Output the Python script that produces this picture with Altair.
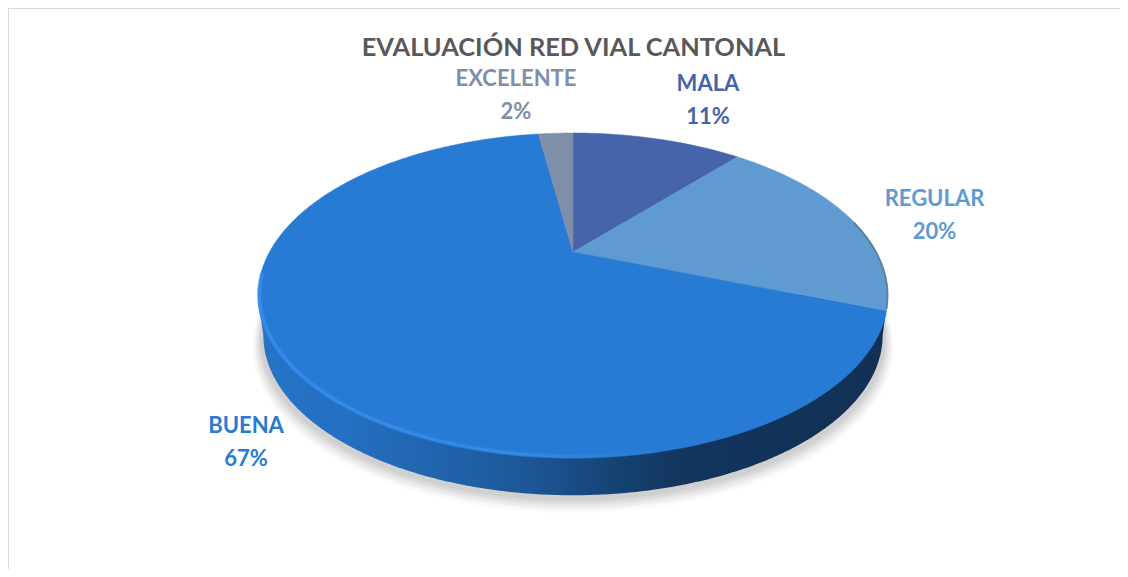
import numpy as np
import pandas as pd
import altair as alt

categories = ["MALA", "REGULAR", "BUENA", "EXCELENTE"]
shares = [11.3, 19.5, 66.9, 2.3]
pct_labels = ["11%", "20%", "67%", "2%"]
colors = ["#4664aa", "#5f9bd1", "#277bd4", "#7f8fa9"]
text_colors = ["#4664aa", "#5f9bd1", "#277bd4", "#7f8fa9"]
label_x = [708, 934.5, 246, 516]
label_y = [84, 199, 426, 79]
title_text = "EVALUACIÓN RED VIAL CANTONAL"

CX, CY, A, Q, K = 573.0, 252.0, 303.5, -83.4, 0.2677
X_DOMAIN = [8, 1120]
Y_DOMAIN = [569, 8]

def project(theta, dy=0.0, scale=1.0):
    u, v = np.sin(theta), np.cos(theta)
    d = 1 + K * v
    x = CX + scale * A * u / d
    y = (CY + Q * v) / d
    mid = 295.0
    return x, mid + scale * (y - mid) + dy

X = alt.X("x:Q", scale=alt.Scale(domain=X_DOMAIN, nice=False, zero=False), axis=None)
Y = alt.Y("y:Q", scale=alt.Scale(domain=Y_DOMAIN, nice=False, zero=False), axis=None)
Y2 = alt.Y2("y2:Q")

rows = []
start = 0.0
for cat, share, col in zip(categories, shares, colors):
    end = start + share
    t = np.radians(np.linspace(start, end, max(3, int(share * 4))) * 3.6)
    xs, ys = project(t)
    pts = [(CX, CY)] + list(zip(xs, ys)) + [(CX, CY)]
    for i, (x, y) in enumerate(pts):
        rows.append({"cat": cat, "i": i, "x": x, "y": y})
    start = end
slices = pd.DataFrame(rows)

layers = []

# soft shadow below the disc
t_all = np.radians(np.arange(0, 361, 2))
for grow, off, op in [(1.035, 12, 0.03), (1.03, 10, 0.04), (1.025, 9, 0.05), (1.02, 7, 0.06), (1.015, 6, 0.07), (1.01, 4, 0.08)]:
    sx, sy = project(t_all, dy=40, scale=0.983 * grow)
    sh = pd.DataFrame({"x": sx, "y": sy + off, "i": np.arange(len(sx))})
    layers.append(alt.Chart(sh).mark_line(fill="#606060", fillOpacity=op, strokeOpacity=0).encode(x=X, y=Y, order="i:Q"))

# side wall
t_ext = np.degrees(np.arccos(-K))
t_low = np.radians(np.linspace(t_ext, 360 - t_ext, 301))
bx, by = project(t_low, dy=40, scale=0.983)
wall_rows = [{"x": 258.0, "y": 295.0, "y2": 295.0}]
for x, y in sorted(zip(bx, by)):
    wall_rows.append({"x": x, "y": 295.0, "y2": y})
wall_rows.append({"x": 888.0, "y": 295.0, "y2": 295.0})
wall = pd.DataFrame(wall_rows)
wall_fill = alt.Gradient(
    gradient="linear", x1=0, x2=1, y1=0, y2=0,
    stops=[
        alt.GradientStop(color="#2474c8", offset=0.0),
        alt.GradientStop(color="#2470c2", offset=0.13),
        alt.GradientStop(color="#2063ab", offset=0.3),
        alt.GradientStop(color="#1c5899", offset=0.42),
        alt.GradientStop(color="#194c85", offset=0.5),
        alt.GradientStop(color="#154170", offset=0.58),
        alt.GradientStop(color="#12355c", offset=0.68),
        alt.GradientStop(color="#113054", offset=1.0),
    ],
)
layers.append(alt.Chart(wall).mark_area(fill=wall_fill).encode(x=X, y=Y, y2=Y2))

# top face
for cat, col in zip(categories, colors):
    layers.append(
        alt.Chart(slices[slices.cat == cat]).mark_line(fill=col, stroke=col, strokeWidth=0.5).encode(x=X, y=Y, order="i:Q")
    )

# bevel on the lit rim
t_rim = np.radians(np.linspace(168, 262, 150))
rx, ry = project(t_rim, scale=0.995)
rim = pd.DataFrame({"x": rx, "y": ry - 1, "i": np.arange(len(rx))})
rim_stroke = alt.Gradient(
    gradient="linear", x1=0, x2=1, y1=0, y2=0,
    stops=[
        alt.GradientStop(color="#358cec", offset=0.0),
        alt.GradientStop(color="#338ae8", offset=0.65),
        alt.GradientStop(color="#277bd4", offset=1.0),
    ],
)
layers.append(alt.Chart(rim).mark_line(stroke=rim_stroke, strokeWidth=5, opacity=0.35).encode(x=X, y=Y, order="i:Q"))
layers.append(alt.Chart(rim).mark_line(stroke=rim_stroke, strokeWidth=2.5).encode(x=X, y=Y, order="i:Q"))

# shaded edge of the right slice
t_edge = np.radians(np.linspace(78, 110, 30))
ex, ey = project(t_edge, scale=0.998)
edge = pd.DataFrame({"x": ex, "y": ey, "i": np.arange(len(ex))})
layers.append(alt.Chart(edge).mark_line(stroke="#5d7388", strokeWidth=2, opacity=0.7).encode(x=X, y=Y, order="i:Q"))

# texts
labels = pd.DataFrame({
    "x": label_x, "y": label_y, "y_pct": [v + 33 for v in label_y],
    "name": categories, "pct": pct_labels, "color": text_colors,
})
font = "Lato"
c_scale = alt.Color("color:N", scale=None, legend=None)
layers.append(alt.Chart(labels).mark_text(font=font, fontWeight="bold", fontSize=22, baseline="middle").encode(x=X, y=Y, text="name:N", color=c_scale))
layers.append(alt.Chart(labels).mark_text(font=font, fontWeight="bold", fontSize=22, baseline="middle").encode(x=X, y=alt.Y("y_pct:Q", scale=alt.Scale(domain=Y_DOMAIN, nice=False, zero=False), axis=None), text="pct:N", color=c_scale))
title_df = pd.DataFrame({"x": [573.5], "y": [48], "t": [title_text]})
layers.append(alt.Chart(title_df).mark_text(font=font, fontWeight="bold", fontSize=25.4, color="#595959", baseline="middle").encode(x=X, y=Y, text="t:N"))

# frame
frame = alt.Chart(pd.DataFrame({"a": [0]}))
layers.append(frame.mark_rule(color="#d9d9d9", strokeWidth=2).encode(x=alt.value(0)))
layers.append(frame.mark_rule(color="#d9d9d9", strokeWidth=2).encode(y=alt.value(0)))

chart = alt.layer(*layers).properties(
    width=1112, height=561, padding=0,
    autosize=alt.AutoSizeParams(type="none"), background="#ffffff",
).configure_view(stroke=None)
chart.save("out.html", embed_options={"renderer": "svg", "actions": False})
